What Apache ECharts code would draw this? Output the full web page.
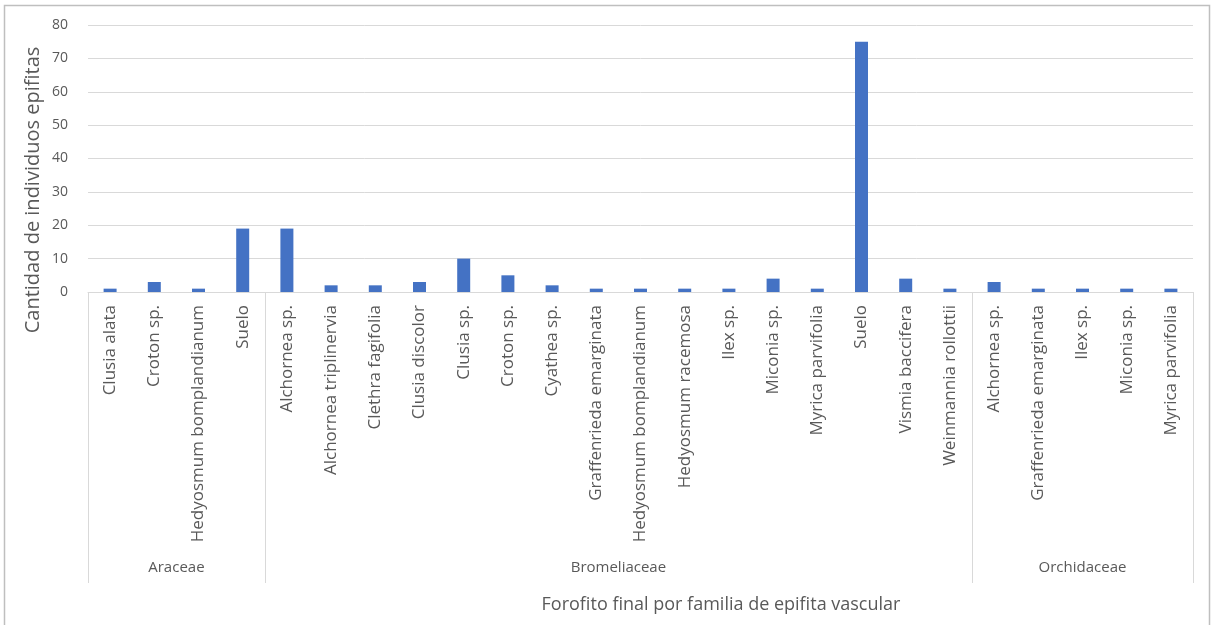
<!DOCTYPE html>
<html>
<head>
<meta charset="utf-8">
<script src="https://cdn.jsdelivr.net/npm/echarts@6/dist/echarts.min.js"></script>
<style>
html,body{margin:0;padding:0;background:#fff;}
#main{width:1215px;height:625px;}
</style>
</head>
<body>
<div id="main"></div>
<script>
const families = ["Araceae", "Bromeliaceae", "Orchidaceae"];
const familyCounts = [4, 16, 5];
const categories = [
  "Clusia alata", "Croton sp.", "Hedyosmum bomplandianum", "Suelo",
  "Alchornea sp.", "Alchornea triplinervia", "Clethra fagifolia", "Clusia discolor",
  "Clusia sp.", "Croton sp.", "Cyathea sp.", "Graffenrieda emarginata",
  "Hedyosmum bomplandianum", "Hedyosmum racemosa", "Ilex sp.", "Miconia sp.",
  "Myrica parvifolia", "Suelo", "Vismia baccifera", "Weinmannia rollottii",
  "Alchornea sp.", "Graffenrieda emarginata", "Ilex sp.", "Miconia sp.", "Myrica parvifolia"
];
const values = [
  1, 3, 1, 19,
  19, 2, 2, 3, 10, 5, 2, 1, 1, 1, 1, 4, 1, 75, 4, 1,
  3, 1, 1, 1, 1
];
const yTitle = "Cantidad de individuos epifitas";
const xTitle = "Forofito final por familia de epifita vascular";

const FONT = "'Open Sans', 'Noto Sans', sans-serif";
const GREY = "#595959";
const chart = echarts.init(document.getElementById('main'), null, {renderer: 'canvas'});
chart.setOption({
  backgroundColor: '#fff',
  animation: false,
  grid: {left: 88, right: 22, top: 25, bottom: 333, containLabel: false},
  xAxis: {
    type: 'category',
    data: categories.map((c, i) => i),
    axisLine: {show: true, lineStyle: {color: '#d9d9d9', width: 1}},
    axisTick: {show: false},
    axisLabel: {
      interval: 0, rotate: 90, margin: 13,
      color: GREY, fontFamily: FONT, fontSize: 17,
      formatter: (v) => categories[+v]
    }
  },
  yAxis: {
    type: 'value', min: 0, max: 80, interval: 10,
    axisLine: {show: false}, axisTick: {show: false},
    axisLabel: {color: GREY, fontFamily: FONT, fontSize: 14, margin: 20},
    splitLine: {lineStyle: {color: '#d9d9d9', width: 1}}
  },
  series: [{
    type: 'bar', data: values, barWidth: 13,
    itemStyle: {color: '#4472c4'}
  }]
});

// group separators and labels computed from the axis scale
const px = (i) => chart.convertToPixel({xAxisIndex: 0}, i);
const y0 = chart.convertToPixel({yAxisIndex: 0}, 0);
const step = px(1) - px(0);
const graphics = [];
let start = 0;
const bounds = [];
familyCounts.forEach((n, g) => {
  const left = px(start) - step / 2;
  const right = px(start + n - 1) + step / 2;
  bounds.push([left, right]);
  graphics.push({
    type: 'text', x: (left + right) / 2, y: 568,
    style: {text: families[g], fill: GREY, font: '15px ' + FONT, textAlign: 'center', textVerticalAlign: 'middle'}
  });
  start += n;
});
const edges = [bounds[0][0]].concat(bounds.map(b => b[1]));
edges.forEach(x => {
  graphics.push({
    type: 'line', shape: {x1: Math.round(x) + 0.5, y1: y0, x2: Math.round(x) + 0.5, y2: 583},
    style: {stroke: '#d9d9d9', lineWidth: 1}, silent: true
  });
});
graphics.push({
  type: 'text', x: 721, y: 605,
  style: {text: xTitle, fill: GREY, font: '18px ' + FONT, textAlign: 'center', textVerticalAlign: 'middle'}
});
graphics.push({
  type: 'text', x: 33, y: 190, rotation: Math.PI / 2,
  style: {text: yTitle, fill: GREY, font: '20px ' + FONT, textAlign: 'center', textVerticalAlign: 'middle'}
});
graphics.push({
  type: 'rect', shape: {x: 4.5, y: 5.5, width: 1205, height: 640},
  style: {fill: null, stroke: '#bfbfbf', lineWidth: 1.5}, silent: true, z: -1
});
chart.setOption({graphic: graphics});
</script>
</body>
</html>
